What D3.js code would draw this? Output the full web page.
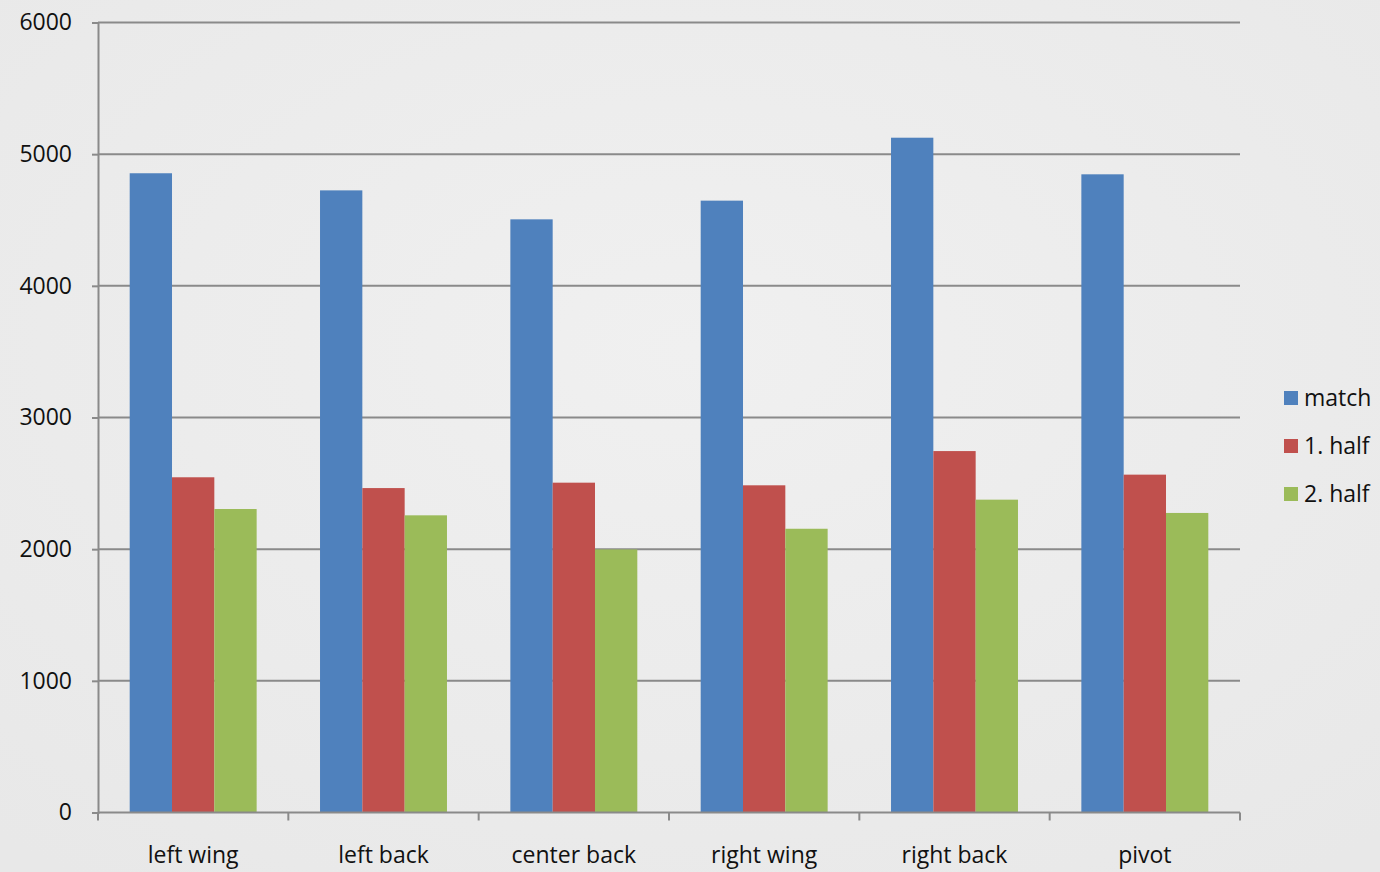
<!DOCTYPE html>
<html><head><meta charset="utf-8">
<script src="https://cdn.jsdelivr.net/npm/d3@7"></script>
<style>
html,body{margin:0;padding:0;background:#ececec;}
svg{display:block;}
text{font-family:"Open Sans","Liberation Sans",sans-serif;fill:#111;}
</style></head>
<body>
<svg id="chart" width="1380" height="872"></svg>
<script>
const categories = ["left wing","left back","center back","right wing","right back","pivot"];
const seriesNames = ["match","1. half","2. half"];
const matchValues = [4855,4725,4505,4647,5125,4847];
const firstHalf = [2546,2464,2505,2485,2745,2566];
const secondHalf = [2305,2257,1998,2155,2376,2275];
const yTicks = [0,1000,2000,3000,4000,5000,6000];
const colors = ["#4f81bd","#c0504d","#9bbb59"];

(function(){
const series = [matchValues, firstHalf, secondHalf];
const svg = d3.select("#chart");

const defs = svg.append("defs");
const g1 = defs.append("radialGradient").attr("id","bg").attr("cx","50%").attr("cy","40%").attr("r","75%");
g1.append("stop").attr("offset","0%").attr("stop-color","#f0f0f0");
g1.append("stop").attr("offset","100%").attr("stop-color","#e8e8e8");
svg.append("rect").attr("width",1380).attr("height",872).attr("fill","url(#bg)");

const mLeft = 98, mRight = 1240, mTop = 22.5, mBottom = 812.5;
const x0 = d3.scaleBand().domain(categories).range([mLeft,mRight]).paddingInner(0.333).paddingOuter(0.1665);
const x1 = d3.scaleBand().domain(seriesNames).range([0,x0.bandwidth()]);
const y = d3.scaleLinear().domain([0,6000]).range([mBottom,mTop]);

svg.append("g").selectAll("line").data(yTicks.filter(d=>d>0)).join("line")
  .attr("x1",mLeft).attr("x2",mRight).attr("y1",d=>y(d)).attr("y2",d=>y(d))
  .attr("stroke","#8a8a8a").attr("stroke-width",2);

const groups = svg.append("g").selectAll("g").data(categories).join("g")
  .attr("transform",c=>`translate(${x0(c)},0)`);
groups.selectAll("rect").data((c,i)=>seriesNames.map((s,j)=>({s, v:series[j][i], j})))
  .join("rect")
  .attr("x",d=>x1(d.s)).attr("width",x1.bandwidth())
  .attr("y",d=>y(d.v)).attr("height",d=>y(0)-y(d.v))
  .attr("fill",d=>colors[d.j]);

const yAxis = d3.axisLeft(y).tickValues(yTicks).tickSize(6).tickPadding(20).tickFormat(d3.format("d"));
const ya = svg.append("g").attr("transform",`translate(${mLeft},0)`).call(yAxis);
ya.select(".domain").attr("stroke","#8a8a8a").attr("stroke-width",2);
ya.selectAll(".tick line").attr("stroke","#8a8a8a").attr("stroke-width",2);
ya.selectAll(".tick text").attr("font-size",23).attr("font-family","'Open Sans',sans-serif").attr("fill","#111");

const xTickScale = d3.scaleLinear().domain([0,6]).range([mLeft,mRight]);
const xa = svg.append("g");
xa.append("line").attr("x1",mLeft).attr("x2",mRight).attr("y1",mBottom).attr("y2",mBottom)
  .attr("stroke","#8a8a8a").attr("stroke-width",2);
xa.selectAll("line.t").data(d3.range(7)).join("line").attr("class","t")
  .attr("x1",d=>xTickScale(d)).attr("x2",d=>xTickScale(d)).attr("y1",mBottom).attr("y2",mBottom+8)
  .attr("stroke","#8a8a8a").attr("stroke-width",2);
xa.selectAll("text").data(categories).join("text")
  .attr("x",c=>x0(c)+x0.bandwidth()/2).attr("y",863)
  .attr("text-anchor","middle").attr("font-size",23).text(d=>d);

const lg = svg.append("g").selectAll("g").data(seriesNames).join("g")
  .attr("transform",(d,i)=>`translate(1284,${398+i*48})`);
lg.append("rect").attr("x",0).attr("y",-7).attr("width",14).attr("height",14).attr("fill",(d,i)=>colors[i]);
lg.append("text").attr("x",20).attr("y",8).attr("font-size",23).text(d=>d);
})();
</script>
</body></html>
